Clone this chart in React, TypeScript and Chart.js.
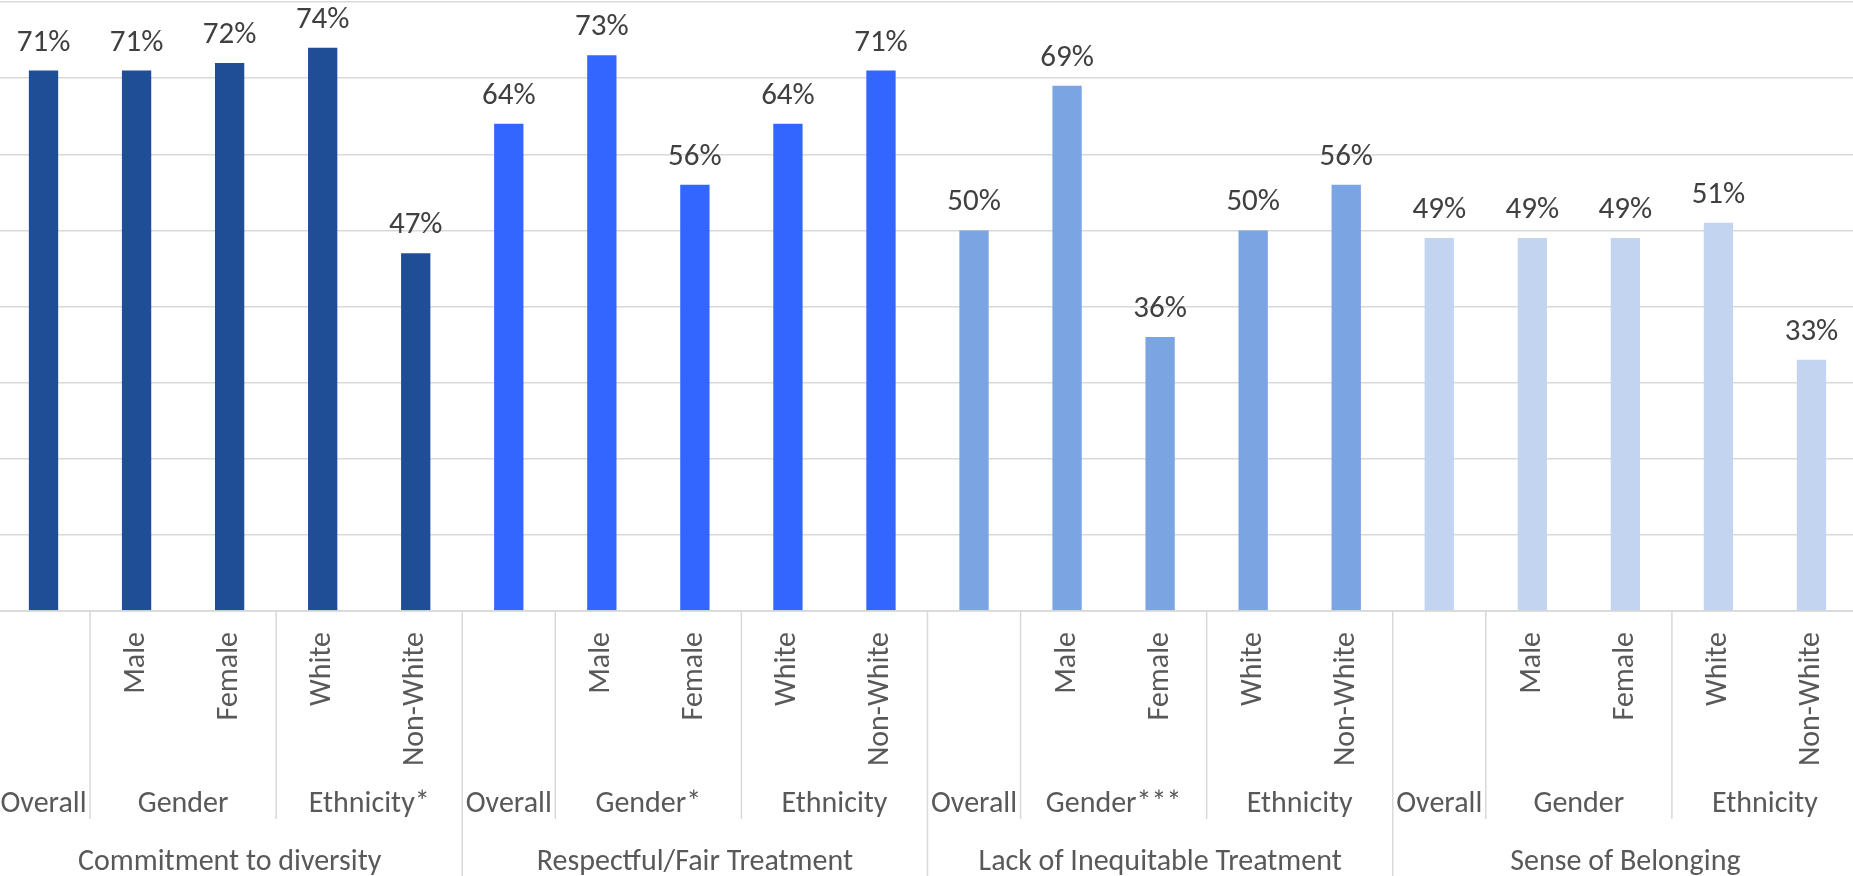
import React, { useEffect, useRef } from "react";
import { Chart, registerables } from "chart.js";

Chart.register(...registerables);

// Innermost category labels (rotated), one per bar
const subLabels = [
  "", "Male", "Female", "White", "Non-White",
  "", "Male", "Female", "White", "Non-White",
  "", "Male", "Female", "White", "Non-White",
  "", "Male", "Female", "White", "Non-White",
];

// Middle level: [label, first index, last index]
const midLabels: [string, number, number][] = [
  ["Overall", 0, 0], ["Gender", 1, 2], ["Ethnicity*", 3, 4],
  ["Overall", 5, 5], ["Gender*", 6, 7], ["Ethnicity", 8, 9],
  ["Overall", 10, 10], ["Gender***", 11, 12], ["Ethnicity", 13, 14],
  ["Overall", 15, 15], ["Gender", 16, 17], ["Ethnicity", 18, 19],
];

// Outer level: [label, first index, last index]
const groupLabels: [string, number, number][] = [
  ["Commitment to diversity", 0, 4],
  ["Respectful/Fair Treatment", 5, 9],
  ["Lack of Inequitable Treatment", 10, 14],
  ["Sense of Belonging", 15, 19],
];

const commitment = [0.71, 0.71, 0.72, 0.74, 0.47];
const respectful = [0.64, 0.73, 0.56, 0.64, 0.71];
const inequitable = [0.5, 0.69, 0.36, 0.5, 0.56];
const belonging = [0.49, 0.49, 0.49, 0.51, 0.33];

const groupColors = ["#1F4E96", "#3366FF", "#7BA4E2", "#C3D4F0"];

const FONT = "Calibri, Carlito, Lato, sans-serif";

const values = [...commitment, ...respectful, ...inequitable, ...belonging];
const barColors = values.map((_, i) => groupColors[Math.floor(i / 5)]);

const labelPlugin = {
  id: "hierLabels",
  afterDatasetsDraw(chart: any) {
    const ctx = chart.ctx;
    const meta = chart.getDatasetMeta(0);
    ctx.save();
    ctx.fillStyle = "#404040";
    ctx.font = `31px ${FONT}`;
    ctx.textAlign = "center";
    ctx.textBaseline = "alphabetic";
    meta.data.forEach((bar: any, i: number) => {
      ctx.fillText(Math.round(values[i] * 100) + "%", bar.x, bar.y - 20);
    });
    ctx.restore();
  },
  afterDraw(chart: any) {
    const ctx = chart.ctx;
    const x = chart.scales.x;
    const area = chart.chartArea;
    const half = (x.getPixelForValue(1) - x.getPixelForValue(0)) / 2;
    const left = (i: number) => x.getPixelForValue(i) - half;
    const right = (i: number) => x.getPixelForValue(i) + half;
    ctx.save();
    // dividers between categories and groups
    ctx.strokeStyle = "#D9D9D9";
    ctx.lineWidth = 1.5;
    midLabels.forEach(([, a]) => {
      const isGroup = a % 5 === 0;
      const px = left(a);
      ctx.beginPath();
      ctx.moveTo(px, area.bottom);
      ctx.lineTo(px, isGroup ? chart.height : 819);
      ctx.stroke();
    });
    const end = right(19);
    ctx.beginPath();
    ctx.moveTo(end, area.bottom);
    ctx.lineTo(end, chart.height);
    ctx.stroke();
    // category axis line
    ctx.beginPath();
    ctx.moveTo(area.left, area.bottom);
    ctx.lineTo(area.right, area.bottom);
    ctx.stroke();

    ctx.fillStyle = "#595959";
    ctx.font = `30px ${FONT}`;
    // rotated labels
    subLabels.forEach((t, i) => {
      if (!t) return;
      ctx.save();
      ctx.translate(x.getPixelForValue(i), 632);
      ctx.rotate(-Math.PI / 2);
      ctx.textAlign = "right";
      ctx.textBaseline = "middle";
      ctx.fillText(t, 0, 0);
      ctx.restore();
    });
    ctx.textAlign = "center";
    ctx.textBaseline = "middle";
    midLabels.forEach(([t, a, b]) => {
      ctx.fillText(t, (left(a) + right(b)) / 2, 804);
    });
    groupLabels.forEach(([t, a, b]) => {
      ctx.fillText(t, (left(a) + right(b)) / 2, 862);
    });
    ctx.restore();
  },
};

export default function App() {
  const ref = useRef<HTMLCanvasElement>(null);
  useEffect(() => {
    if (!ref.current) return;
    const chart = new Chart(ref.current, {
      type: "bar",
      data: {
        labels: subLabels,
        datasets: [
          {
            data: values,
            backgroundColor: barColors,
            borderWidth: 0,
            categoryPercentage: 1,
            barPercentage: 0.315,
          },
        ],
      },
      options: {
        animation: false,
        responsive: false,
        maintainAspectRatio: false,
        layout: { padding: { top: 2, bottom: 265, left: 0, right: 0 } },
        plugins: { legend: { display: false }, tooltip: { enabled: false } },
        scales: {
          x: {
            display: false,
          },
          y: {
            min: 0,
            max: 0.8,
            ticks: { display: false, stepSize: 0.1 },
            grid: { color: "#D9D9D9", lineWidth: 1.5, drawTicks: false },
            border: { display: false },
          },
        },
      },
      plugins: [labelPlugin],
    });
    return () => chart.destroy();
  }, []);
  return (
    <div
      style={{
        position: "fixed",
        top: 0,
        left: 0,
        width: 1853,
        height: 876,
        overflow: "hidden",
        background: "#fff",
      }}
    >
      <canvas
        ref={ref}
        width={1861}
        height={876}
        style={{ position: "absolute", left: -3, top: 0, width: 1861, height: 876 }}
      />
    </div>
  );
}
